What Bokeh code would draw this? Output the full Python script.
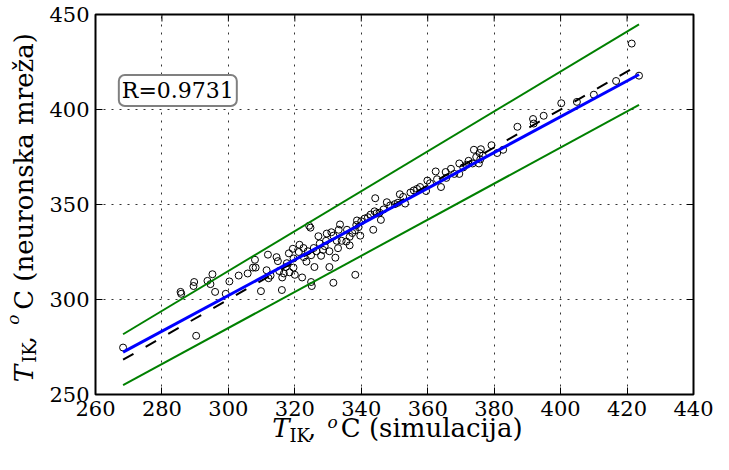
import numpy as np
from bokeh.plotting import figure
from bokeh.models import Label, Range1d, FixedTicker, LinearAxis
from bokeh.embed import file_html
from bokeh.resources import INLINE

# ---------------- data ----------------
x_sim = [268.3, 285.6, 285.8, 289.7, 289.5, 290.3, 293.7, 294.6, 295.2, 296.0,
         299.2, 300.3, 303.1, 305.8, 307.4,
         308.0, 308.2, 309.8, 311.5, 311.9, 312.1, 312.7, 314.5, 314.9, 315.3,
         316.1, 316.2, 316.7, 317.3, 317.6, 318.2, 318.4, 319.4, 319.6, 319.6,
         320.0, 321.2, 321.4, 322.2, 322.6, 322.7, 323.5, 323.9, 324.3, 324.7,
         324.9, 325.1, 324.9, 325.9, 325.7, 326.5, 327.1, 327.5, 327.9, 328.5,
         329.0, 329.4, 329.6, 330.4, 331.0, 330.4, 331.6, 331.6, 332.2, 332.6,
         333.2, 333.6, 333.0,
         344.2, 351.6, 352.6, 353.2, 347.7, 348.7, 350.1, 351.0, 345.9, 343.6,
         344.0, 344.6, 342.8, 342.0, 341.0, 340.0, 338.7, 338.5, 339.2, 339.7,
         338.1, 337.3, 336.5, 335.7, 334.1, 336.5, 335.5, 354.8, 355.8, 356.8,
         357.7, 359.5, 359.9, 360.7, 362.4, 362.8, 338.2, 346.7, 345.5,
         364.0, 365.4, 365.6, 367.0, 368.0, 369.5, 369.5, 370.7, 371.7, 372.3,
         373.5, 373.9, 374.6, 375.4, 375.6, 376.0, 376.6, 375.8, 379.2, 380.9,
         382.7, 387.0, 391.7, 391.9, 394.9,
         400.2, 404.9, 410.0, 416.7, 421.4, 423.6]
y_nn = [274.7, 304.0, 303.0, 309.2, 307.1, 280.9, 309.8, 308.1, 313.3, 304.0,
        303.0, 309.5, 312.6, 313.7, 316.8,
        320.9, 316.8, 304.4, 315.4, 323.6, 311.2, 312.6, 322.3, 320.2, 315.0,
        305.0, 311.6, 313.7, 317.1, 319.1, 324.3, 314.3, 326.7, 321.6, 316.8,
        313.0, 325.0, 328.8, 311.6, 327.1, 322.3, 319.9, 325.4, 338.8, 337.8,
        309.2, 307.1, 323.3, 317.1, 327.1, 325.4, 333.3, 329.5, 323.0, 326.1,
        328.1, 330.9, 334.7, 325.4, 335.4, 317.1, 308.8, 333.6, 322.0, 330.9,
        336.7, 339.5, 327.0,
        353.3, 355.4, 354.0, 350.5, 351.2, 349.5, 350.2, 350.9, 341.9, 336.7,
        346.4, 345.4, 344.7, 343.3, 342.6, 341.2, 341.6, 339.2, 338.1, 333.6,
        336.4, 335.0, 333.0, 336.7, 330.9, 328.5, 330.5, 356.3, 357.4, 358.2,
        359.2, 357.1, 362.6, 361.2, 367.4, 363.3, 313.0, 347.4, 345.7,
        359.2, 367.1, 364.0, 368.8, 366.1, 371.6, 366.1, 369.5, 370.9, 373.0,
        371.6, 378.8, 375.0, 371.6, 377.1, 379.1, 375.7, 373.7, 381.2, 377.1,
        378.8, 390.9, 395.0, 392.6, 396.7,
        403.3, 404.0, 407.8, 415.0, 434.7, 417.8]

fit_slope = 0.941        # regression line of the reference
fit_intercept = 19.8
band = 0.05              # +/- 5 % lines
r_text = "R=0.9731"
x_ticks = [260, 280, 300, 320, 340, 360, 380, 400, 420, 440]
y_ticks = [250, 300, 350, 400, 450]

# axis-title pieces: T (italic), IK (subscript), ",", o (superscript), rest
x_title = ["T", "IK", ",", "o", "C (simulacija)"]
y_title = ["T", "IK", ",", "o", "C (neuronska mreža)"]

# ---------------- layout ----------------
W, H = 713, 454
BL, BR, BT, BB = 90, 20, 14, 60
FW, FH = W - BL - BR, H - BT - BB
X0, X1, Y0, Y1 = 260, 440, 250, 450
SERIF = "DejaVu Serif"


def px2x(px):
    return round(X0 + (px - 8 - BL) * (X1 - X0) / FW, 2)


def py2y(py):
    return round(Y1 - (py - 8 - BT) * (Y1 - Y0) / FH, 2)


p = figure(width=W, height=H, output_backend="svg", toolbar_location=None,
           x_range=Range1d(X0, X1), y_range=Range1d(Y0, Y1),
           min_border_left=BL, min_border_right=BR,
           min_border_top=BT, min_border_bottom=BB)

p.background_fill_color = "white"
p.border_fill_color = "white"
p.outline_line_color = "black"
p.outline_line_width = 2

for ax in (p.xaxis[0], p.yaxis[0]):
    ax.major_label_text_font = SERIF
    ax.major_label_text_font_size = "21px"
    ax.major_label_text_color = "black"
    ax.major_tick_in = 7
    ax.major_tick_out = 0
    ax.minor_tick_in = 0
    ax.minor_tick_out = 0
    ax.major_tick_line_color = "black"
    ax.axis_line_color = None
    ax.major_label_standoff = 6
p.xaxis.ticker = FixedTicker(ticks=x_ticks)
p.yaxis.ticker = FixedTicker(ticks=y_ticks)

p.xgrid.ticker = FixedTicker(ticks=x_ticks)
p.ygrid.ticker = FixedTicker(ticks=y_ticks)
p.grid.grid_line_color = "black"
p.grid.grid_line_dash = "2 6"
p.grid.grid_line_width = 1
p.grid.grid_line_alpha = 0.8

# inward ticks on the top and right frame edges
p.ray(x=x_ticks, y=[Y1] * len(x_ticks), length=7, length_units="screen",
      angle=-np.pi / 2, line_color="black", line_width=1)
p.ray(x=[X1] * len(y_ticks), y=y_ticks, length=7, length_units="screen",
      angle=np.pi, line_color="black", line_width=1)

# ---------------- marks ----------------
p.scatter(x_sim, y_nn, marker="circle", size=7, fill_color=None,
          line_color="black", line_width=1)

xs = np.array([min(x_sim), max(x_sim)])
p.line(xs, xs, line_color="black", line_width=2, line_dash="12 14")
p.line(xs, xs * (1 + band), line_color="#008000", line_width=2)
p.line(xs, xs * (1 - band), line_color="#008000", line_width=2)
p.line(xs, fit_slope * xs + fit_intercept, line_color="#0000ff", line_width=3)

# ---------------- R box ----------------
p.add_layout(Label(x=px2x(181), y=py2y(98), text=r_text, text_font=SERIF,
                   text_font_size="22px", text_color="black",
                   text_align="center", text_baseline="middle",
                   background_fill_color="white", border_line_color="#808080",
                   border_line_width=2, border_radius=6, padding=3))


# ---------------- axis titles: label-only axes stacked in the side panels ----------------
def title_axis(side, positions, texts, size, style, standoff):
    ax = LinearAxis(ticker=FixedTicker(ticks=positions),
                    major_label_overrides={k: t for k, t in zip(positions, texts)},
                    major_label_text_font=SERIF, major_label_text_font_size=size,
                    major_label_text_font_style=style, major_label_text_color="black",
                    major_label_standoff=standoff,
                    major_tick_in=0, major_tick_out=0, minor_tick_in=0, minor_tick_out=0,
                    axis_line_color=None, major_tick_line_color=None,
                    minor_tick_line_color=None)
    if side == "left":
        ax.major_label_orientation = "vertical"
    p.add_layout(ax, side)


# x title (centres in page px)
xc = {"T": 285, "IK": 304, ",": 316.5, "o": 337, "rest": 437}
title_axis("below", [px2x(xc["T"])], [x_title[0]], "26px", "italic", -6)
title_axis("below", [px2x(xc[","]), px2x(xc["rest"])], [x_title[2], x_title[4]],
           "26px", "normal", -33)
title_axis("below", [px2x(xc["IK"])], [x_title[1]], "18px", "normal", -21)
title_axis("below", [px2x(xc["o"])], [x_title[3]], "17px", "italic", -37)

# y title (centres in page px, text runs upwards)
yc = {"T": 381, "IK": 360, ",": 347.5, "o": 327, "rest": 179}
title_axis("left", [py2y(yc["IK"])], [y_title[1]], "18px", "normal", 6)
title_axis("left", [py2y(yc["T"])], [y_title[0]], "26px", "italic", -23)
title_axis("left", [py2y(yc[","]), py2y(yc["rest"])], [y_title[2], y_title[4]],
           "26px", "normal", -33)
title_axis("left", [py2y(yc["o"])], [y_title[3]], "17px", "italic", -17)

open("out.html", "w").write(file_html(p, INLINE))
